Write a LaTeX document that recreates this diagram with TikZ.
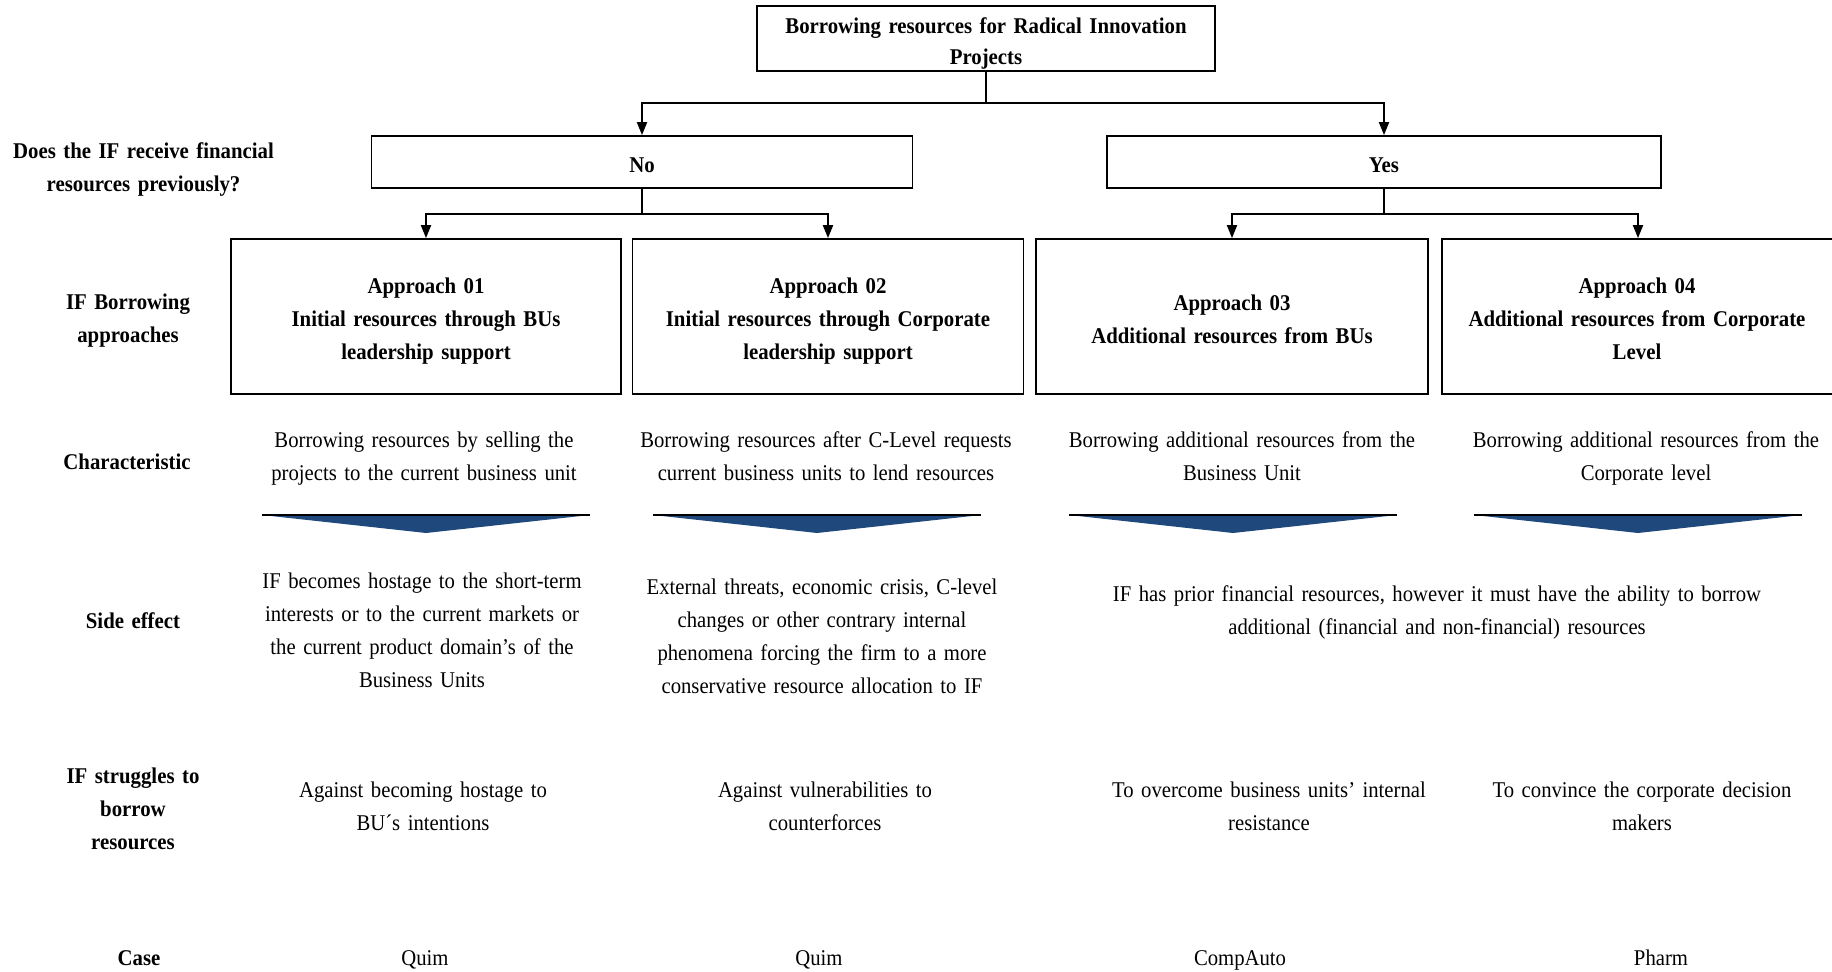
\documentclass[tikz,border=0pt]{standalone}
\usepackage{fontspec}
\setmainfont{Liberation Serif}[FakeStretch=0.92]
\newfontfamily\headfont{Liberation Serif}[FakeStretch=0.925]
\usetikzlibrary{arrows.meta}
\definecolor{chevblue}{RGB}{31,73,125}
\tikzset{
  x=1pt, y=-1pt,
  box/.style={draw, line width=1.8pt, inner sep=0pt},
  txt/.style={anchor=base, align=center, inner sep=0pt, text width=#1,
    font=\fontsize{22.5}{33}\selectfont},
  txt/.default=440,
  lbl/.style={txt=#1, font=\fontsize{22.5}{33}\selectfont\headfont\bfseries},
  lbl/.default=300,
  conn/.style={line width=2pt},
  arr/.style={conn, -{Triangle[length=13pt,width=10pt]}},
  chev/.style={fill=chevblue},
  chevtop/.style={line width=2pt}
}
\begin{document}
\begin{tikzpicture}
\useasboundingbox (0,0) rectangle (1832,972);
\clip (0,0) rectangle (1832,972);

% --- boxes ---
\node[box, minimum width=458, minimum height=65] (top) at (986,38.5) {};
\node[box, minimum width=541, minimum height=52] (no)  at (642,162) {};
\node[box, minimum width=554, minimum height=52] (yes) at (1384,162) {};
\node[box, minimum width=390, minimum height=155] (a1) at (426,316.5) {};
\node[box, minimum width=391, minimum height=155] (a2) at (828,316.5) {};
\node[box, minimum width=392, minimum height=155] (a3) at (1232,316.5) {};
\node[box, minimum width=392, minimum height=155] (a4) at (1638,316.5) {};

% --- box texts ---
\node[lbl=520, font=\fontsize{22.5}{31}\selectfont\headfont\bfseries] (toptxt) at (986,33)
  {Borrowing resources for Radical Innovation\\Projects};
\node[lbl] (notxt) at (642,172) {No};
\node[lbl] (yestxt) at (1384,172) {Yes};
\node[lbl=380] (a1txt) at (426,293)
  {Approach 01\\Initial resources through BUs\\leadership support};
\node[lbl=380] (a2txt) at (828,293)
  {Approach 02\\Initial resources through Corporate\\leadership support};
\node[lbl=380] (a3txt) at (1232,310)
  {Approach 03\\Additional resources from BUs};
\node[lbl=380] (a4txt) at (1637,293)
  {Approach 04\\Additional resources from Corporate\\Level};

% --- tree connectors ---
\coordinate (j1) at (986,103);
\coordinate (j2) at (642,214);
\coordinate (j3) at (1384,214);
\draw[conn] (top.south) -- (j1);
\draw[arr] (j1) -| (no.north);
\draw[arr] (j1) -| (yes.north);
\draw[conn] (no.south) -- (j2);
\draw[arr] (j2) -| (a1.north);
\draw[arr] (j2) -| (a2.north);
\draw[conn] (yes.south) -- (j3);
\draw[arr] (j3) -| (a3.north);
\draw[arr] (j3) -| (a4.north);

% --- row headings ---
\node[lbl] (hq) at (143.5,158) {Does the IF receive financial\\resources previously?};
\node[lbl] (hb) at (128,309) {IF Borrowing\\approaches};
\node[lbl] (hc) at (127,469) {Characteristic};
\node[lbl] (hs) at (133,628) {Side effect};
\node[lbl] (hg) at (133,783) {IF struggles to\\borrow\\resources};
\node[lbl] (hk) at (139,965) {Case};

% --- characteristic row ---
\node[txt] (c1) at (424,447) {Borrowing resources by selling the\\projects to the current business unit};
\node[txt] (c2) at (826,447) {Borrowing resources after C-Level requests\\current business units to lend resources};
\node[txt] (c3) at (1242,447) {Borrowing additional resources from the\\Business Unit};
\node[txt] (c4) at (1646,447) {Borrowing additional resources from the\\Corporate level};

% --- chevrons ---
\foreach \cx in {426,817,1233,1638} {
  \fill[chev] (\cx-164,515) -- (\cx+164,515) -- (\cx,533) -- cycle;
  \draw[chevtop] (\cx-164,515) -- (\cx+164,515);
}

% --- side effect row ---
\node[txt] (s1) at (422,588) {IF becomes hostage to the short-term\\interests or to the current markets or\\the current product domain’s of the\\Business Units};
\node[txt] (s2) at (822,594) {External threats, economic crisis, C-level\\changes or other contrary internal\\phenomena forcing the firm to a more\\conservative resource allocation to IF};
\node[txt=800] (s3) at (1437,601) {IF has prior financial resources, however it must have the ability to borrow\\additional (financial and non-financial) resources};

% --- struggles row ---
\node[txt] (g1) at (423,797) {Against becoming hostage to\\BU´s intentions};
\node[txt] (g2) at (825,797) {Against vulnerabilities to\\counterforces};
\node[txt] (g3) at (1269,797) {To overcome business units’ internal\\resistance};
\node[txt] (g4) at (1642,797) {To convince the corporate decision\\makers};

% --- case row ---
\node[txt] (k1) at (425,965) {Quim};
\node[txt] (k2) at (819,965) {Quim};
\node[txt] (k3) at (1240,965) {CompAuto};
\node[txt] (k4) at (1661,965) {Pharm};
\end{tikzpicture}
\end{document}
